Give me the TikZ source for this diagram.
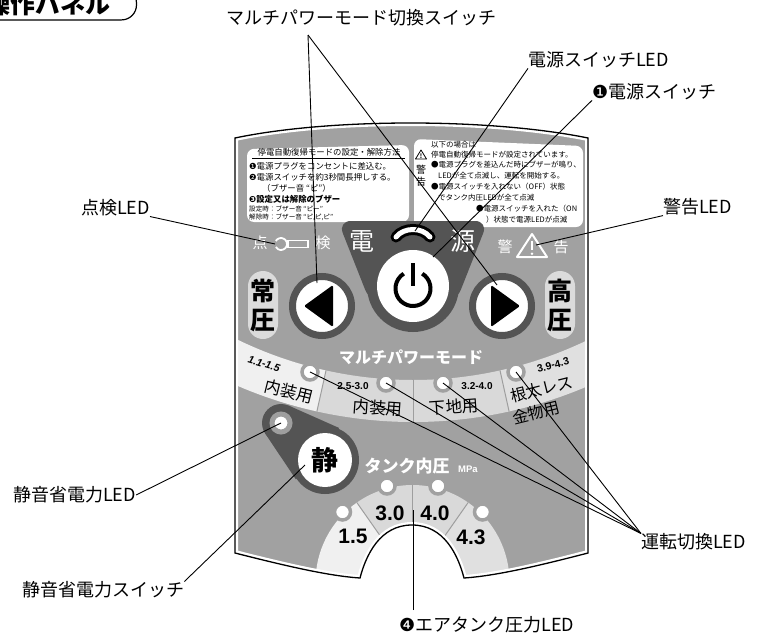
\documentclass[tikz,border=0pt]{standalone}
\usepackage{fontspec}
\setmainfont{Noto Sans CJK JP}
\newfontfamily\numfont{Liberation Sans}
\newfontfamily\dingfont{DejaVu Sans}
\usetikzlibrary{calc}

\definecolor{panelgray}{gray}{0.63}
\definecolor{shieldgray}{gray}{0.33}
\definecolor{ledgray}{gray}{0.62}
\definecolor{pillgray}{gray}{0.86}
\definecolor{secA}{gray}{0.94}
\definecolor{secB}{gray}{0.85}
\definecolor{secC}{gray}{0.88}
\definecolor{divgray}{gray}{0.62}

\newcommand{\pxfont}[1]{\fontsize{#1}{#1}\selectfont}

% outline of the panel, notch at the bottom
\def\panelpath{(235,138) .. controls (330,118) and (490,118) .. (588,138) -- (588,553)
  .. controls (534,567) and (494,576) .. (464,578)
  .. controls (458,555) and (444,525) .. (412,525)
  .. controls (380,525) and (366,555) .. (360,578)
  .. controls (330,576) and (290,567) .. (235,553) -- cycle}

\begin{document}
\begin{tikzpicture}[x=1pt, y=-1pt,
    callout/.style={inner sep=0pt, font=\pxfont{18}},
    leader/.style={line width=0.9pt},
    boxtext/.style={inner sep=0pt, anchor=west, font=\pxfont{8.4}},
    notetext/.style={inner sep=0pt, anchor=west, font=\pxfont{7.5}},
    facetext/.style={inner sep=0pt, text=white, font=\pxfont{15}},
    led/.style={circle, fill=white, draw=panelgray, line width=3.5pt, minimum size=16pt, inner sep=0pt},
    arrowbtn/.style={circle, fill=white, draw=shieldgray, line width=7pt, minimum size=59pt, inner sep=0pt},
    pill/.style={fill=pillgray, rounded corners=15pt, minimum width=30pt, minimum height=68pt, inner sep=0pt,
      align=center, font=\bfseries\fontsize{25}{29}\selectfont},
    rangetext/.style={inner sep=0pt, font=\numfont\bfseries\pxfont{10}},
    usetext/.style={inner sep=0pt, font=\pxfont{16.5}},
    tanktext/.style={inner sep=0pt, font=\numfont\bfseries\pxfont{21}}
  ]
  \useasboundingbox (0,0) rectangle (760,637);

  % panel body
  \begin{scope}
    \clip \panelpath;
    \fill[panelgray] (200,100) rectangle (620,600);
    \begin{scope}[shift={(413,-22)}]
      \fill[secA] (125:402) arc[start angle=125, end angle=102.5, radius=402]
        -- (102.5:444) arc[start angle=102.5, end angle=125, radius=444] -- cycle;
      \fill[secB] (102.5:402) arc[start angle=102.5, end angle=90, radius=402]
        -- (90:444) arc[start angle=90, end angle=102.5, radius=444] -- cycle;
      \fill[secB] (90:402) arc[start angle=90, end angle=77.5, radius=402]
        -- (77.5:444) arc[start angle=77.5, end angle=90, radius=444] -- cycle;
      \fill[secC] (77.5:402) arc[start angle=77.5, end angle=55, radius=402]
        -- (55:444) arc[start angle=55, end angle=77.5, radius=444] -- cycle;
      \foreach \a in {102.5,90,77.5}
        \draw[divgray, line width=1pt] (\a:402) -- (\a:444);
    \end{scope}
    \begin{scope}[shift={(412.5,582)}]
      \fill[secA] (0,0) -- (180:97) arc[start angle=180, end angle=235, radius=97] -- cycle;
      \fill[secB] (0,0) -- (235:97) arc[start angle=235, end angle=270, radius=97] -- cycle;
      \fill[secB] (0,0) -- (270:97) arc[start angle=270, end angle=305, radius=97] -- cycle;
      \fill[secC] (0,0) -- (305:97) arc[start angle=305, end angle=360, radius=97] -- cycle;
      \foreach \a in {235,270,305}
        \draw[divgray, line width=1pt] (0,0) -- (\a:97);
    \end{scope}
    \draw[white, line width=6pt] \panelpath;
  \end{scope}
  \draw[line width=1.3pt] \panelpath;

  % info boxes
  \fill[white, rounded corners=7pt] (247,222) -- (247,149) -- (409,145) -- (409,222) -- cycle;
  \fill[white, rounded corners=7pt] (414,227) -- (414,139) -- (583,146) -- (583,227) -- cycle;

  \node[inner sep=0pt, font=\pxfont{8.4}] (resettitle) at (329,152) {停電自動復帰モードの設定・解除方法};
  \draw[line width=0.6pt] (252,158.5) -- (405,158.5);
  \node[boxtext] (step1) at (249,166) {{\dingfont ❶}電源プラグをコンセントに差込む。};
  \node[boxtext] (step2) at (249,177) {{\dingfont ❷}電源スイッチを約3秒間長押しする。};
  \node[boxtext] (step2b) at (262,188) {（ブザー音 “ピ”）};
  \node[boxtext, font=\bfseries\pxfont{8.4}] (step3) at (249,199) {{\dingfont ❸}設定又は解除のブザー};
  \node[boxtext, font=\pxfont{6.6}] (beepset) at (249,209) {設定時：ブザー音 “ピー”};
  \node[boxtext, font=\pxfont{6.6}] (beepoff) at (249,217) {解除時：ブザー音 “ピ,ピ,ピ”};

  \draw[line width=0.8pt, line join=round] (421,150) -- (426.5,159) -- (415.5,159) -- cycle;
  \node[inner sep=0pt, font=\bfseries\pxfont{6}] (warnmark) at (421,156) {!};
  \node[inner sep=0pt, font=\pxfont{10}] (warnkei) at (421,170) {警};
  \node[inner sep=0pt, font=\pxfont{10}] (warnkoku) at (421,182) {告};
  \node[notetext] (note1) at (431,145) {以下の場合は};
  \node[notetext] (note2) at (431,155) {停電自動復帰モードが設定されています。};
  \node[notetext] (note3) at (431,165) {●電源プラグを差込んだ時にブザーが鳴り、};
  \node[notetext] (note4) at (438,176) {LEDが全て点滅し、運転を開始する。};
  \node[notetext] (note5) at (431,187) {●電源スイッチを入れない（OFF）状態};
  \node[notetext] (note6) at (438,198) {でタンク内圧LEDが全て点滅};
  \node[notetext] (note7) at (476,209) {●電源スイッチを入れた（ON};
  \node[notetext] (note8) at (486,220) {）状態で電源LEDが点滅};

  % power area
  \fill[shieldgray, rounded corners=13pt] (338,221) -- (488,221) -- (456,302) -- (370,302) -- cycle;
  \fill[shieldgray] (413,286) circle (46);
  \node[circle, fill=white, minimum size=72pt, inner sep=0pt] (pwrbtn) at (413,286) {};
  \draw[line width=4pt] (413,288.5) ++(-58:17.5) arc[start angle=-58, end angle=238, radius=17.5];
  \draw[line width=4pt] (413,263) -- (413,286);
  \draw[line width=11pt, line cap=round] (396,237) .. controls (404,227) and (422,227) .. (430,237);
  \draw[white, line width=5pt, line cap=round] (396,237) .. controls (404,227) and (422,227) .. (430,237);
  \node[facetext, font=\pxfont{25}] (den) at (362,241) {電};
  \node[facetext, font=\pxfont{25}] (gen) at (463,241) {源};

  % check / warning row
  \node[facetext] (ten) at (260,243) {点};
  \node[facetext] (ken) at (323,243) {検};
  \draw[white, line width=1.8pt] (281,244) ++(-150:6) arc[start angle=-150, end angle=150, radius=6];
  \draw[white, line width=1.5pt] (288,240.5) rectangle (308,247.5);
  \node[facetext] (kei) at (505,247) {警};
  \node[facetext] (koku) at (561,247) {告};
  \draw[white, line width=2pt, line join=round] (532,234) -- (547,257) -- (517,257) -- cycle;
  \draw[white, line width=2.4pt] (532,240.5) -- (532,250);
  \fill[white] (532,253.8) circle (1.4);

  % mode buttons
  \node[arrowbtn] (leftbtn) at (322,306) {};
  \fill[rounded corners=1.5pt] (304,306) -- (333,285) -- (333,327) -- cycle;
  \node[arrowbtn] (rightbtn) at (502,306) {};
  \fill[rounded corners=1.5pt] (520,306) -- (491,285) -- (491,327) -- cycle;
  \node[pill] (lowpill) at (263,305) {常\\圧};
  \node[pill] (highpill) at (560,305) {高\\圧};

  % multi power mode band
  \node[inner sep=0pt, text=white, font=\bfseries\pxfont{16}] (modetitle) at (411,357) {マルチパワーモード};
  \node[led] (bandled1) at (310,372) {};
  \node[led] (bandled2) at (386,383) {};
  \node[led] (bandled3) at (443,383) {};
  \node[led] (bandled4) at (516,372) {};
  \node[rangetext, font=\numfont\bfseries\itshape\pxfont{10.5}, rotate=-17] (range1) at (264,364) {1.1-1.5};
  \node[usetext, rotate=-14] (use1) at (289,391) {内装用};
  \node[rangetext] (range2) at (353,386) {2.5-3.0};
  \node[usetext, rotate=-4] (use2) at (378,408) {内装用};
  \node[rangetext] (range3) at (477,386) {3.2-4.0};
  \node[usetext, rotate=4] (use3) at (454,407) {下地用};
  \node[rangetext, font=\numfont\bfseries\pxfont{10.5}, rotate=14] (range4) at (553,365) {3.9-4.3};
  \node[usetext, font=\pxfont{16}, rotate=14] (use4a) at (542,389) {根太レス};
  \node[usetext, font=\pxfont{16}, rotate=14] (use4b) at (536,413) {金物用};

  % quiet mode
  \fill[shieldgray] (281,423) circle (19) (325,460) circle (34);
  \fill[shieldgray] (265.2,433.5) -- (295.9,479.4) -- (339.2,428) -- (288.7,405.6) -- cycle;
  \node[led, draw=ledgray, minimum size=18pt, line width=5pt] (quietled) at (281,423) {};
  \node[circle, fill=white, minimum size=54pt, inner sep=0pt, font=\bfseries\pxfont{27}] (quietbtn) at (325,460) {静};

  % tank pressure
  \node[inner sep=0pt, text=white, font=\bfseries\pxfont{17}] (tanktitle) at (407,466) {タンク内圧};
  \node[inner sep=0pt, text=white, font=\numfont\bfseries\pxfont{9.5}] (mpa) at (468,469) {MPa};
  \node[led] (tankled1) at (342.5,512) {};
  \node[led] (tankled2) at (387,486) {};
  \node[led] (tankled3) at (438,486) {};
  \node[led] (tankled4) at (482.5,512) {};
  \node[tanktext] (p15) at (353,536) {1.5};
  \node[tanktext] (p30) at (390,513) {3.0};
  \node[tanktext] (p40) at (435,513) {4.0};
  \node[tanktext] (p43) at (471,537) {4.3};

  % callouts
  \node[draw, line width=1.2pt, rounded corners=15pt, inner xsep=26pt, inner ysep=4pt,
    font=\bfseries\pxfont{25}] (paneltitle) at (48,4) {操作パネル};
  \node[callout, anchor=west] (lblmulti) at (226,18) {マルチパワーモード切換スイッチ};
  \node[callout, anchor=west] (lblpled) at (528,60) {電源スイッチLED};
  \node[callout, anchor=west] (lblpsw) at (592,92) {{\dingfont ❶}電源スイッチ};
  \node[callout, anchor=east] (lblcheck) at (150,208) {点検LED};
  \node[callout, anchor=west] (lblwarn) at (663,207) {警告LED};
  \node[callout, anchor=west] (lblqled) at (13,495) {静音省電力LED};
  \node[callout, anchor=west] (lblqsw) at (22,590) {静音省電力スイッチ};
  \node[callout, anchor=west] (lblrun) at (641,542) {運転切換LED};
  \node[callout, anchor=west] (lbltank) at (399,625) {{\dingfont ❹}エアタンク圧力LED};

  \coordinate (multifork) at (308,35);
  \coordinate (lefttip) at (317,283);
  \coordinate (righttip) at (497,285);
  \coordinate (pwrled) at (415,231);
  \coordinate (pwrmark) at (433,257);
  \coordinate (keyicon) at (275,244);
  \coordinate (warnicon) at (536,245);
  \coordinate (quiettap) at (305,465);
  \coordinate (tankfoot) at (413,610);
  \coordinate (tanktop) at (413,510);

  \draw[leader] (multifork) -- (lefttip);
  \draw[leader] (multifork) -- (righttip);
  \draw[leader] (lblpled.south west) -- (pwrled);
  \draw[leader] (lblpsw.south west) -- (pwrmark);
  \draw[leader] (lblcheck.south east) -- (keyicon);
  \draw[leader] (lblwarn.south west) -- (warnicon);
  \draw[leader] (lblqled.east) -- (quietled.center);
  \draw[leader] (lblqsw.north east) -- (quiettap);
  \draw[leader] (tankfoot) -- (tanktop);
  \foreach \n in {1,...,4}
    \draw[leader] (lblrun.north west) -- (bandled\n.center);
\end{tikzpicture}
\end{document}
